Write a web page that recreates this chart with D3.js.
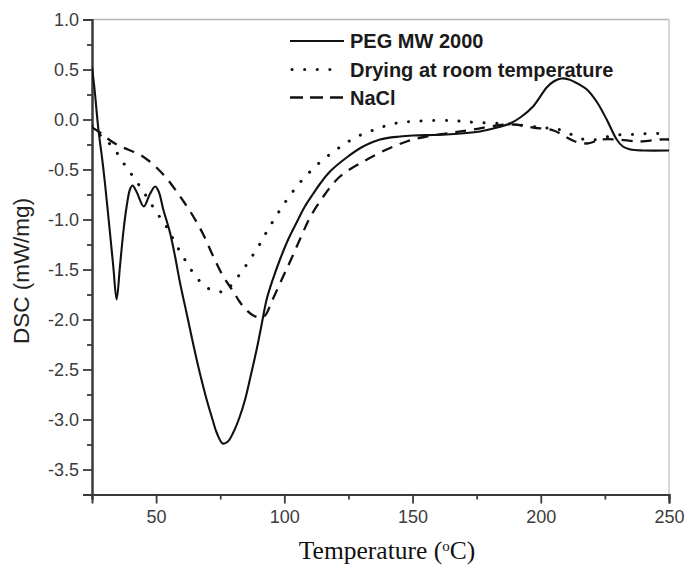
<!DOCTYPE html>
<html>
<head>
<meta charset="utf-8">
<script src="https://cdn.jsdelivr.net/npm/d3@7/dist/d3.min.js"></script>
<style>
  html, body { margin: 0; padding: 0; background: #fff; }
  svg { display: block; }
</style>
</head>
<body>
<svg id="chart" width="688" height="567"></svg>
<script>
// DSC thermograms: temperature (°C) vs heat flow (mW/mg)
const pegTemp = [25, 26, 27.5, 29, 30.1, 32, 33.3, 34.6, 35.9, 37.2, 38.5, 39.8, 40.8, 42.5, 45.2, 47.5, 49.6, 51, 52.8, 55.4, 57.4, 59.3, 62, 64.5, 67, 69.7, 72, 73.6, 76, 78, 80.1, 82.5, 84.7, 87, 89.2, 91, 93.1, 95.5, 98.3, 101.5, 104.8, 108, 111.3, 114, 117.8, 124.3, 130, 137.3, 145, 150.3, 163.3, 176.3, 183, 188, 192, 197, 202.3, 205, 208, 211, 215, 218, 222, 225.7, 229.6, 232, 235, 240, 250];
const pegDSC  = [0.52, 0.3, -0.1, -0.4, -0.65, -1.13, -1.47, -1.8, -1.47, -1.13, -0.87, -0.7, -0.66, -0.73, -0.87, -0.75, -0.67, -0.72, -0.9, -1.13, -1.37, -1.63, -1.95, -2.25, -2.53, -2.8, -3.0, -3.13, -3.24, -3.22, -3.13, -2.98, -2.8, -2.55, -2.3, -2.07, -1.8, -1.6, -1.4, -1.2, -1.03, -0.87, -0.74, -0.64, -0.52, -0.38, -0.28, -0.2, -0.17, -0.16, -0.15, -0.12, -0.08, -0.04, 0.02, 0.13, 0.32, 0.38, 0.41, 0.4, 0.35, 0.3, 0.17, 0.0, -0.2, -0.27, -0.3, -0.31, -0.31];

const dryTemp = [25, 28, 30, 33.3, 36.6, 40.2, 43.7, 47, 50.2, 53.5, 56.1, 59.1, 61.9, 65.2, 69.7, 74.3, 77, 79.5, 83.4, 86.6, 89.9, 92.5, 95.5, 98.7, 102.2, 106.1, 110.5, 115.2, 120.4, 125, 130.2, 135.4, 140, 145, 150.3, 157, 165, 170, 175, 184, 190, 200, 207, 212, 217, 222, 228, 235, 242, 250];
const dryDSC  = [-0.06, -0.15, -0.2, -0.28, -0.41, -0.54, -0.67, -0.8, -0.93, -1.05, -1.17, -1.31, -1.43, -1.56, -1.68, -1.72, -1.72, -1.65, -1.52, -1.4, -1.27, -1.15, -1.02, -0.89, -0.76, -0.63, -0.51, -0.4, -0.3, -0.22, -0.15, -0.1, -0.06, -0.03, -0.02, -0.01, -0.01, -0.02, -0.03, -0.04, -0.05, -0.08, -0.1, -0.15, -0.2, -0.2, -0.16, -0.15, -0.14, -0.14];

const naclTemp = [25, 28.1, 31, 34.6, 39, 43.6, 47.5, 51.3, 54.5, 58, 61, 64.5, 68.4, 72.3, 76.2, 80.1, 82.5, 85, 87.9, 90.5, 92.5, 95.1, 99, 102.6, 106.4, 110, 115.2, 121.7, 130.8, 139.9, 147.7, 155.5, 165.9, 173.7, 182.8, 189.3, 197, 205, 209.5, 213.4, 218, 223.8, 230, 238.7, 246.5, 250];
const naclDSC  = [-0.08, -0.13, -0.19, -0.25, -0.3, -0.35, -0.42, -0.51, -0.6, -0.72, -0.83, -0.97, -1.15, -1.37, -1.57, -1.72, -1.82, -1.9, -1.96, -1.98, -1.96, -1.82, -1.6, -1.4, -1.18, -0.98, -0.77, -0.57, -0.42, -0.3, -0.22, -0.17, -0.13, -0.1, -0.06, -0.05, -0.08, -0.11, -0.17, -0.22, -0.24, -0.2, -0.2, -0.22, -0.2, -0.2];

const seriesNames = ["PEG MW 2000", "Drying at room temperature", "NaCl"];
const xTicks = [50, 100, 150, 200, 250];
const yTicks = [1.0, 0.5, 0.0, -0.5, -1.0, -1.5, -2.0, -2.5, -3.0, -3.5];

const svg = d3.select("#chart");
const plotL = 92, plotR = 669, plotT = 19.5, plotB = 494.5;

const x = d3.scaleLinear().domain([25, 250]).range([plotL, plotR]);
const y = d3.scaleLinear().domain([-3.75, 1.0]).range([plotB, plotT]);

// frame: light top and right edges
svg.append("line").attr("x1", plotL).attr("x2", plotR).attr("y1", plotT).attr("y2", plotT)
  .attr("stroke", "#b5b5b5").attr("stroke-width", 1.5);
svg.append("line").attr("x1", plotR).attr("x2", plotR).attr("y1", plotT).attr("y2", plotB)
  .attr("stroke", "#c8c8c8").attr("stroke-width", 1.5);

// minor ticks
const xMinor = d3.range(25, 251, 25).filter(v => !xTicks.includes(v));
const yMinor = d3.range(-3.75, 1.01, 0.25).map(v => +v.toFixed(2)).filter(v => !yTicks.some(t => Math.abs(t - v) < 1e-6));

const xAxisG = svg.append("g").attr("transform", `translate(0,${plotB})`);
xAxisG.call(d3.axisBottom(x).tickValues(xMinor).tickSize(5).tickFormat(""));
xAxisG.append("g").call(d3.axisBottom(x).tickValues(xTicks).tickSize(9).tickPadding(7).tickFormat(d => String(d)));

const yAxisG = svg.append("g").attr("transform", `translate(${plotL},0)`);
yAxisG.call(d3.axisLeft(y).tickValues(yMinor).tickSize(5).tickFormat(""));
yAxisG.append("g").call(d3.axisLeft(y).tickValues(yTicks).tickSize(9).tickPadding(4).tickFormat(d => d.toFixed(1)));

svg.selectAll(".domain").attr("stroke", "#3a3a3a").attr("stroke-width", 2);
svg.selectAll(".tick line").attr("stroke", "#3a3a3a").attr("stroke-width", 1.8);
svg.selectAll(".tick text")
  .attr("fill", "#3c3c3c")
  .style("font-family", "'Liberation Sans', Arial, sans-serif")
  .style("font-size", "18px");

// axis titles
svg.append("text")
  .attr("x", 387).attr("y", 559)
  .attr("text-anchor", "middle")
  .style("font-family", "'Liberation Serif', 'Times New Roman', serif")
  .style("font-size", "25.5px")
  .attr("fill", "#111")
  .html('Temperature (<tspan dy="-8" font-size="15px">o</tspan><tspan dy="8">C)</tspan>');

svg.append("text")
  .attr("transform", "translate(29,271) rotate(-90)")
  .attr("text-anchor", "middle")
  .style("font-family", "'Liberation Sans', Arial, sans-serif")
  .style("font-size", "22.5px")
  .attr("fill", "#222")
  .text("DSC (mW/mg)");

// curves
svg.append("clipPath").attr("id", "plot-clip")
  .append("rect").attr("x", plotL).attr("y", plotT).attr("width", plotR - plotL).attr("height", plotB - plotT);

const line = d3.line().x(d => x(d[0])).y(d => y(d[1])).curve(d3.curveCatmullRom.alpha(0.5));
const zip = (a, b) => a.map((v, i) => [v, b[i]]);

const styles = [
  { dash: null, width: 2.1, cap: "butt" },
  { dash: "0.1 12.5", width: 3, cap: "round" },
  { dash: "11 8", width: 2.3, cap: "butt" }
];
const data = [zip(pegTemp, pegDSC), zip(dryTemp, dryDSC), zip(naclTemp, naclDSC)];

const plot = svg.append("g").attr("clip-path", "url(#plot-clip)");
data.forEach((d, i) => {
  plot.append("path")
    .datum(d)
    .attr("d", line)
    .attr("fill", "none")
    .attr("stroke", "#111")
    .attr("stroke-width", styles[i].width)
    .attr("stroke-linecap", styles[i].cap)
    .attr("stroke-dasharray", styles[i].dash);
});

// legend
const legend = svg.append("g");
const legendRows = [41, 69.5, 97.5];
seriesNames.forEach((name, i) => {
  const ly = legendRows[i];
  legend.append("line")
    .attr("x1", i === 1 ? 292 : 290).attr("x2", i === 1 ? 332 : 344)
    .attr("y1", ly).attr("y2", ly)
    .attr("stroke", "#111")
    .attr("stroke-width", styles[i].width)
    .attr("stroke-linecap", styles[i].cap)
    .attr("stroke-dasharray", i === 1 ? "0.1 12.5" : (i === 2 ? "13 7" : null));
  legend.append("text")
    .attr("x", 350).attr("y", ly)
    .attr("dy", "0.36em")
    .style("font-family", "'Liberation Sans', Arial, sans-serif")
    .style("font-size", "20px")
    .style("font-weight", "bold")
    .attr("fill", "#1a1a1a")
    .text(name);
});
</script>
</body>
</html>
